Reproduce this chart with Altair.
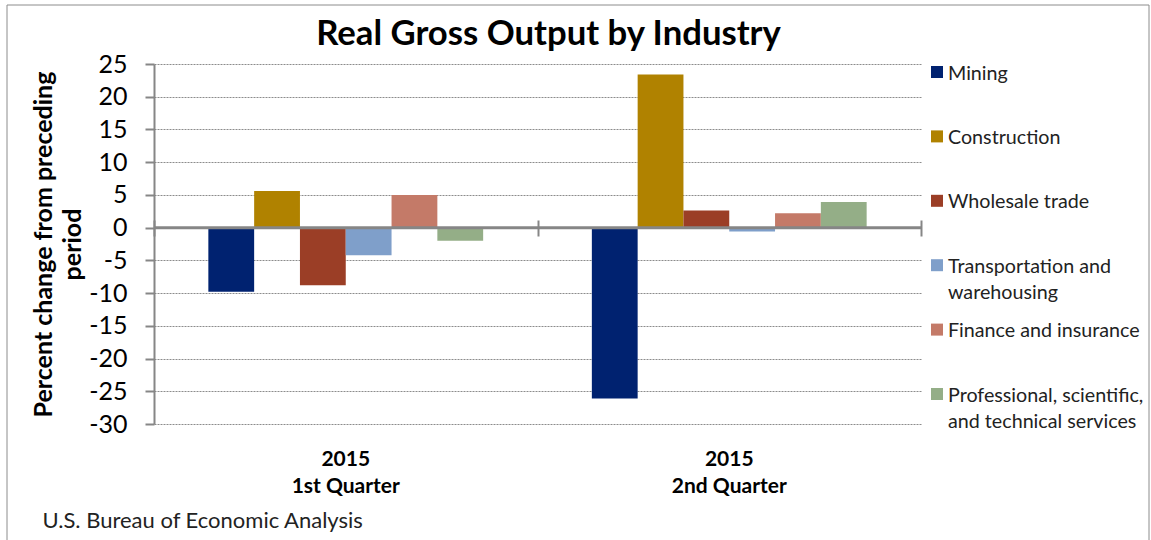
import altair as alt
import pandas as pd

title_text = "Real Gross Output by Industry"
source_text = "U.S. Bureau of Economic Analysis"
year_label = "2015"
quarters = ["1st Quarter", "2nd Quarter"]
industries = [
    "Mining",
    "Construction",
    "Wholesale trade",
    "Transportation and warehousing",
    "Finance and insurance",
    "Professional, scientific, and technical services",
]
legend_labels = [
    "Mining",
    "Construction",
    "Wholesale trade",
    "Transportation and|warehousing",
    "Finance and insurance",
    "Professional, scientific,|and technical services",
]
q1_values = [-9.8, 5.6, -8.8, -4.2, 5.0, -2.0]
q2_values = [-26.1, 23.4, 2.6, -0.6, 2.2, 3.9]
colors = ["#002270", "#B08200", "#9B3E26", "#7F9FCA", "#C47A68", "#94AE87"]
y_ticks = [25, 20, 15, 10, 5, 0, -5, -10, -15, -20, -25, -30]
y_title = ["Percent change from preceding", "period"]

rows = []
for q, vals in zip(quarters, [q1_values, q2_values]):
    for ind, v in zip(industries, vals):
        rows.append({"quarter": q, "industry": ind, "value": v})
df = pd.DataFrame(rows)
legend_df = pd.DataFrame({"industry": industries, "label": legend_labels})
zero_df = pd.DataFrame({"value": [0]})

FONT = "Lato"
GRAY = "#868686"

color_enc = alt.Color(
    "industry:N", sort=industries,
    scale=alt.Scale(domain=industries, range=colors), legend=None,
)

y_axis = alt.Axis(
    values=y_ticks, title=y_title, labelExpr="datum.value + ''",
    titleFont=FONT, titleFontSize=25, titleFontWeight="bold",
    titleColor="black", titleLineHeight=29, titlePadding=3,
    labelFont=FONT, labelFontSize=25, labelColor="black", labelPadding=18,
    tickSize=9, tickColor=GRAY, tickWidth=2,
    domainColor=GRAY, domainWidth=2,
    gridColor="#8c8c8c", gridDash=[2, 1], gridWidth=1,
)
y_scale = alt.Scale(domain=[-30, 25], nice=False, zero=False)

border = alt.Chart(zero_df).mark_rect(
    fillOpacity=0, stroke="#8c8c8c", strokeWidth=1
).encode(
    x=alt.value(-147), x2=alt.value(995), y=alt.value(-59), y2=alt.value(490)
)

bars = alt.Chart(df).mark_bar().encode(
    x=alt.X(
        "quarter:N", sort=quarters,
        scale=alt.Scale(paddingInner=0.0446, paddingOuter=0.0223),
        axis=alt.Axis(
            orient="bottom", domain=False, ticks=False, grid=False,
            labelExpr=f"['{year_label}', datum.label]",
            labelFont=FONT, labelFontSize=21, labelFontWeight="bold",
            labelColor="black", labelLineHeight=27, labelPadding=24, labelAngle=0,
            title=source_text, titleFont=FONT, titleFontSize=22,
            titleFontWeight="normal", titleColor="#222",
            titleAnchor="start", titleAlign="left", titleX=-112, titleY=96,
            titleBaseline="middle",
        ),
    ),
    xOffset=alt.XOffset(
        "industry:N", sort=industries,
        scale=alt.Scale(paddingInner=0, paddingOuter=1),
    ),
    y=alt.Y("value:Q", scale=y_scale, axis=y_axis),
    color=color_enc,
)

zero_line = alt.Chart(zero_df).mark_rule(color=GRAY, strokeWidth=3).encode(
    y=alt.Y("value:Q", scale=y_scale, axis=y_axis)
)

band_ticks = alt.Chart(df).mark_rule(opacity=0).encode(
    x=alt.X(
        "quarter:N", sort=quarters,
        scale=alt.Scale(paddingInner=0, paddingOuter=0),
        axis=alt.Axis(
            orient="top", offset=-172, domain=False, labels=False, grid=False,
            ticks=True, tickBand="extent", tickSize=16, tickColor=GRAY,
            tickWidth=2, title=None,
        ),
    )
)

legend_y = alt.Y(
    "industry:N", sort=industries,
    scale=alt.Scale(type="point", range=[8, 330], padding=0), axis=None,
)
leg_sq = alt.Chart(legend_df).mark_square(size=144, opacity=1).encode(
    y=legend_y, x=alt.value(783), color=color_enc
)
leg_tx = alt.Chart(legend_df).mark_text(
    align="left", baseline="top", dy=-8.5, lineBreak="|", lineHeight=26.5,
    font=FONT, fontSize=19.7, color="#222",
).encode(y=legend_y, x=alt.value(794), text="label:N")

main = alt.layer(border, bars, zero_line, band_ticks).resolve_scale(x="independent")
legend = alt.layer(leg_sq, leg_tx)

chart = alt.layer(main, legend).resolve_scale(y="independent").properties(
    width=767, height=360,
    padding={"left": 154, "top": 64, "right": 230, "bottom": 116},
    autosize=alt.AutoSizeParams(type="none"),
    title=alt.TitleParams(
        title_text, font=FONT, fontSize=34.7, fontWeight="bold", color="black",
        anchor="middle", frame="group", dx=11, dy=35, offset=-40,
        baseline="alphabetic",
    ),
    background="white",
).configure_view(stroke=None)

chart.save("out.html", embed_options={"renderer": "svg", "actions": False})
